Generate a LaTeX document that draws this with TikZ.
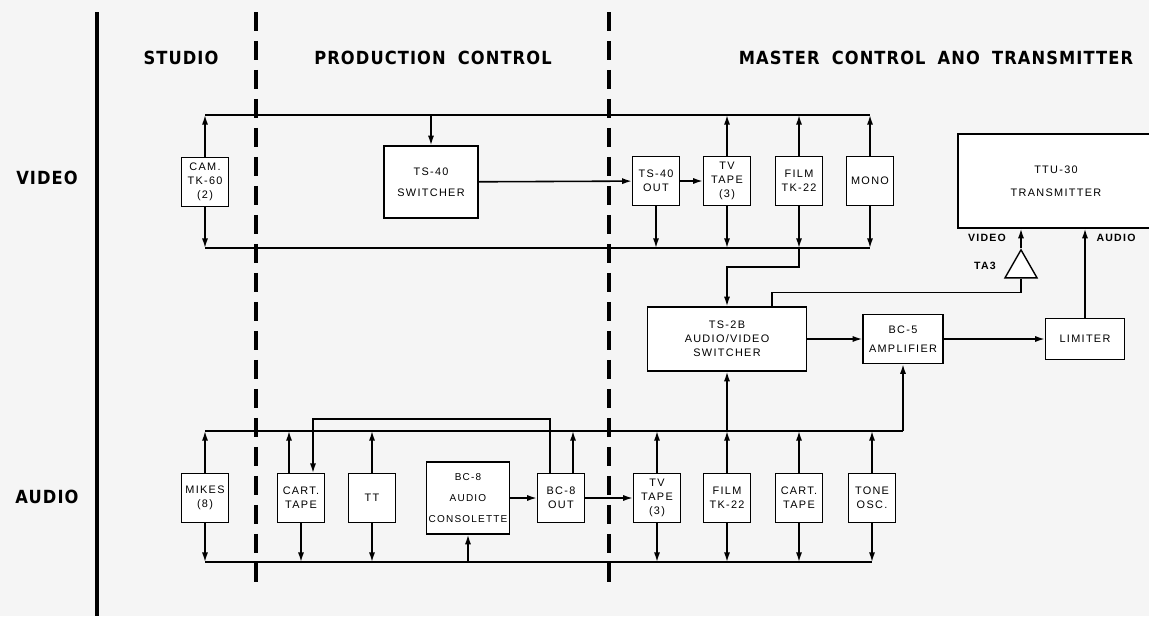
\documentclass[tikz,border=0pt]{standalone}
\usepackage{fontspec}
\setmainfont{Liberation Sans}
\newfontfamily\headfont[LetterSpace=6,WordSpace=1.8]{DejaVu Sans Condensed}
\newfontfamily\boxfont[LetterSpace=12]{Liberation Sans}
\usepackage{tikz}
\usetikzlibrary{arrows.meta,shapes.geometric}

\begin{document}
\begin{tikzpicture}[x=0.02cm, y=-0.02cm,
      box/.style={rectangle, draw, fill=white, line width=0.8pt,
                  minimum width=0.94cm, minimum height=0.97cm, inner sep=1pt,
                  align=center, font=\boxfont\fontsize{6.2}{8}\selectfont},
      tri/.style={isosceles triangle, shape border rotate=90, draw, fill=white,
                  line width=0.8pt, isosceles triangle stretches,
                  minimum width=0.64cm, minimum height=0.56cm, inner sep=0pt},
      head/.style={font=\headfont\bfseries\fontsize{10.3}{12}\selectfont},
      tag/.style={font=\boxfont\bfseries\fontsize{6}{8}\selectfont},
      bus/.style={line width=0.9pt},
      link/.style={line width=0.9pt, -{Latex[length=5.5pt,width=3.5pt]}},
      split/.style={line width=2.2pt, dash pattern=on 11pt off 5.5pt}]
  \useasboundingbox (0,0) rectangle (1149,616);
  \fill[black!4] (0,0) rectangle (1149,616);
  % room boundaries
  \draw[line width=2.4pt] (97,12) -- (97,616);
  \draw[split] (256,12) -- (256,585);
  \draw[split] (609,12) -- (609,585);
  % headings
  \node[head] (studio) at (181,58) {STUDIO};
  \node[head] (prod) at (433,58) {PRODUCTION CONTROL};
  \node[head] (mast) at (936,58) {MASTER CONTROL ANO TRANSMITTER};
  \node[head] (vlab) at (47,178) {VIDEO};
  \node[head] (alab) at (47,497) {AUDIO};
  % bus levels
  \coordinate (vtop) at (0,115);
  \coordinate (vbot) at (0,248);
  \coordinate (atop) at (0,431);
  \coordinate (abot) at (0,562);

  % video
  \node[box] (cam) at (205,182) {CAM.\\TK-60\\(2)};
  \node[box, minimum width=1.88cm, minimum height=1.44cm] (sw) at (431,182)
    {TS-40\\[4pt]SWITCHER};
  \node[box] (swout) at (656,181) {TS-40\\OUT};
  \node[box] (vtape) at (727,181) {TV\\TAPE\\(3)};
  \node[box] (vfilm) at (799,181) {FILM\\TK-22};
  \node[box] (mono) at (870,181) {MONO};
  \node[box, minimum width=3.92cm, minimum height=1.88cm] (ttu) at (1056,181)
    {TTU-30\\[5pt]TRANSMITTER};
  \node[tri, anchor=apex] (ta) at (1021,248) {};
  \node[tag] (vin) at (987,238) {VIDEO};
  \node[tag] (ain) at (1116,238) {AUDIO};
  \node[tag] (talab) at (985,266) {TA3};

  \draw[bus] (cam |- vtop) -- (mono |- vtop);
  \draw[bus] (cam |- vbot) -- (mono |- vbot);
  \draw[link] (cam) -- (cam |- vtop);
  \draw[link] (cam) -- (cam |- vbot);
  \draw[link] (sw |- vtop) -- (sw);
  \draw[link] (sw) -- (swout);
  \draw[link] (swout) -- (vtape);
  \draw[link] (swout) -- (swout |- vbot);
  \foreach \n in {vtape,vfilm,mono} {
    \draw[link] (\n) -- (\n |- vtop);
    \draw[link] (\n) -- (\n |- vbot);
  }

  % master control
  \node[box, minimum width=3.18cm, minimum height=1.28cm] (ts) at (727,339)
    {TS-2B\\AUDIO/VIDEO\\SWITCHER};
  \node[box, minimum width=1.6cm, minimum height=0.98cm] (amp) at (903,339)
    {BC-5\\[3pt]AMPLIFIER};
  \node[box, minimum width=1.58cm, minimum height=0.82cm] (lim) at (1085,339)
    {LIMITER};

  \draw[link] (vfilm |- vbot) -- ++(0,19) -| (ts);
  \draw[bus] (ta.lower side) -- ++(0,14) -| ([xshift=0.9cm]ts.north);
  \draw[link] (ta.apex) -- (ta.apex |- ttu.south);
  \draw[link] (ts) -- (amp);
  \draw[link] (amp) -- (lim);
  \draw[link] (lim) -- (lim |- ttu.south);

  % audio
  \node[box] (mikes) at (205,498) {MIKES\\(8)};
  \node[box] (cart) at (301,498) {CART.\\TAPE};
  \node[box] (tt) at (372,498) {TT};
  \node[box, minimum width=1.66cm, minimum height=1.44cm, inner sep=0pt,
        font=\boxfont\fontsize{5.7}{8}\selectfont] (cons)
    at (468,498) {BC-8\\[4pt]AUDIO\\[4pt]CONSOLETTE};
  \node[box] (bcout) at (561,498) {BC-8\\OUT};
  \node[box] (atape) at (657,498) {TV\\TAPE\\(3)};
  \node[box] (afilm) at (727,498) {FILM\\TK-22};
  \node[box] (acart) at (799,498) {CART.\\TAPE};
  \node[box] (tone) at (872,498) {TONE\\OSC.};

  \draw[bus] (mikes |- atop) -- (amp |- atop);
  \draw[bus] (mikes |- abot) -- (tone |- abot);
  \foreach \n in {mikes,tt,atape,acart,tone} {
    \draw[link] (\n) -- (\n |- atop);
    \draw[link] (\n) -- (\n |- abot);
  }
  \draw[link] ([xshift=-0.24cm]cart.north) -- ([xshift=-0.24cm]cart.north |- atop);
  \draw[link] (cart) -- (cart |- abot);
  \draw[link] ([xshift=-0.22cm]bcout.north) -- ++(0,-54)
    -| ([xshift=0.24cm]cart.north);
  \draw[link] ([xshift=0.24cm]bcout.north) -- ([xshift=0.24cm]bcout.north |- atop);
  \draw[link] (cons |- abot) -- (cons);
  \draw[link] (cons) -- (bcout);
  \draw[link] (bcout) -- (atape);
  \draw[link] (afilm) -- (afilm |- atop);
  \draw[link] (afilm |- atop) -- (ts);
  \draw[link] (afilm) -- (afilm |- abot);
  \draw[link] (amp |- atop) -- (amp);
\end{tikzpicture}
\end{document}
